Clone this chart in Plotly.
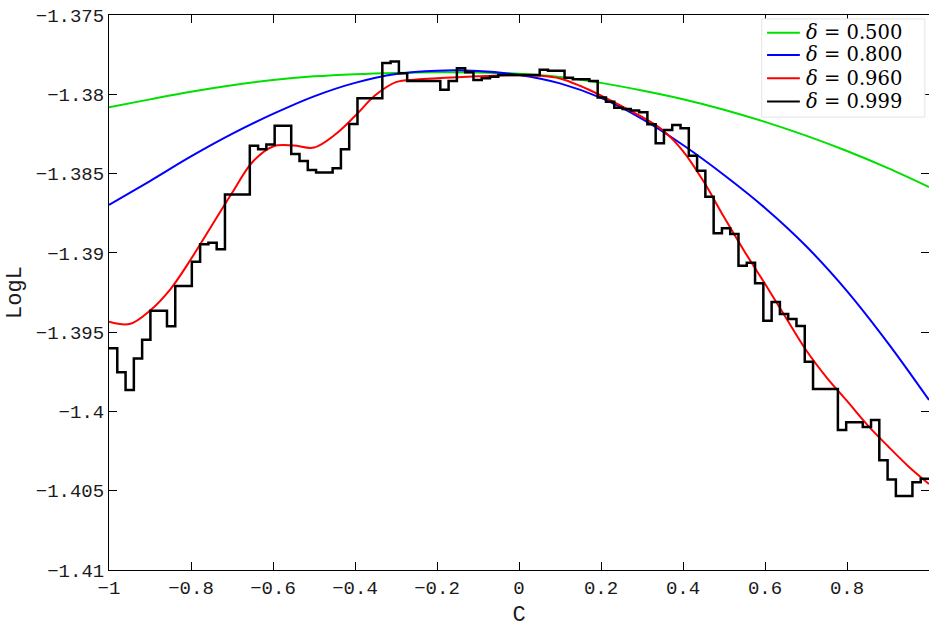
import numpy as np
import plotly.graph_objects as go

# ---- data ----
x_coarse = [-1.0, -0.9, -0.8, -0.7, -0.6, -0.5, -0.4, -0.3, -0.2, -0.1, 0.0,
            0.1, 0.2, 0.3, 0.4, 0.5, 0.6, 0.7, 0.8, 0.9, 1.0]

logl_d500 = [-1.38082, -1.38032, -1.37984, -1.37943, -1.37910, -1.37887, -1.37873,
             -1.37865, -1.37861, -1.37863, -1.37871, -1.37891, -1.37928, -1.37976,
             -1.38031, -1.38097, -1.38174, -1.38261, -1.38358, -1.38466, -1.38585]

logl_d800 = [-1.38698, -1.38547, -1.38392, -1.38250, -1.38124, -1.38013, -1.37928,
             -1.37872, -1.37851, -1.37853, -1.37878, -1.37931, -1.38023, -1.38155,
             -1.38320, -1.38509, -1.38717, -1.38957, -1.39241, -1.39569, -1.39928]

x_fine = [-1.0, -0.95, -0.9, -0.85, -0.8, -0.75, -0.7, -0.65, -0.6, -0.55, -0.5,
          -0.45, -0.4, -0.35, -0.3, -0.25, -0.2, -0.15, -0.1, -0.05, 0.0,
          0.05, 0.1, 0.15, 0.2, 0.25, 0.3, 0.35, 0.4, 0.45, 0.5,
          0.55, 0.6, 0.65, 0.7, 0.75, 0.8, 0.85, 0.9, 0.95, 1.0]

logl_d960 = [-1.39434, -1.39449, -1.39364, -1.39228, -1.39039, -1.38831, -1.38623,
             -1.38427, -1.38329, -1.38323, -1.38336, -1.38257, -1.38137, -1.38005,
             -1.37923, -1.37907, -1.37899, -1.37893, -1.37887, -1.37881, -1.37880,
             -1.37883, -1.37900, -1.37948, -1.38008, -1.38074, -1.38143, -1.38225,
             -1.38358, -1.38549, -1.38774, -1.38991, -1.39195, -1.39405, -1.39613,
             -1.39785, -1.39934, -1.40086, -1.40220, -1.40347, -1.40458]

logl_d999 = [-1.39602, -1.39753, -1.39865, -1.39667, -1.39548, -1.39365, -1.39365,
             -1.39463, -1.39209, -1.39209, -1.39056, -1.38946, -1.38936, -1.38978,
             -1.38632, -1.38632, -1.38632, -1.38324, -1.38347, -1.38316, -1.38198,
             -1.38198, -1.38377, -1.38421, -1.38478, -1.38494, -1.38494, -1.38467,
             -1.38347, -1.38187, -1.38025, -1.38025, -1.38025, -1.37803, -1.37794,
             -1.37868, -1.37916, -1.37916, -1.37916, -1.37916, -1.37971, -1.37916,
             -1.37836, -1.37861, -1.37910, -1.37899, -1.37889, -1.37878, -1.37878,
             -1.37878, -1.37878, -1.37878, -1.37845, -1.37851, -1.37851, -1.37895,
             -1.37905, -1.37905, -1.37916, -1.38020, -1.38047, -1.38085, -1.38093,
             -1.38103, -1.38114, -1.38189, -1.38309, -1.38225, -1.38194, -1.38214,
             -1.38387, -1.38482, -1.38646, -1.38877, -1.38845, -1.38881, -1.39081,
             -1.39062, -1.39192, -1.39428, -1.39310, -1.39386, -1.39417, -1.39461,
             -1.39686, -1.39858, -1.39858, -1.39858, -1.40117, -1.40068, -1.40068,
             -1.40098, -1.40054, -1.40308, -1.40429, -1.40533, -1.40533, -1.40447,
             -1.40424, -1.40424]
x_step = np.linspace(-1, 1, len(logl_d999))

x_ticks = [-1, -0.8, -0.6, -0.4, -0.2, 0, 0.2, 0.4, 0.6, 0.8, 1]
x_ticklabels = ["\u22121", "\u22120.8", "\u22120.6", "\u22120.4", "\u22120.2", "0",
                "0.2", "0.4", "0.6", "0.8", "1"]
y_ticks = [-1.41, -1.405, -1.4, -1.395, -1.39, -1.385, -1.38, -1.375]
y_ticklabels = ["\u22121.41", "\u22121.405", "\u22121.4", "\u22121.395", "\u22121.39",
                "\u22121.385", "\u22121.38", "\u22121.375"]

legend_names = ["<i>\u03b4</i> = 0.500", "<i>\u03b4</i> = 0.800",
                "<i>\u03b4</i> = 0.960", "<i>\u03b4</i> = 0.999"]
colors = ["#00e000", "#0000ff", "#ff0000", "#000000"]

# ---- figure ----
fig = go.Figure()
fig.add_trace(go.Scatter(x=x_coarse, y=logl_d500, mode="lines", name=legend_names[0],
                         line=dict(color=colors[0], width=2, shape="spline", smoothing=1.0)))
fig.add_trace(go.Scatter(x=x_coarse, y=logl_d800, mode="lines", name=legend_names[1],
                         line=dict(color=colors[1], width=2, shape="spline", smoothing=1.0)))
fig.add_trace(go.Scatter(x=x_fine, y=logl_d960, mode="lines", name=legend_names[2],
                         line=dict(color=colors[2], width=2, shape="spline", smoothing=1.0)))
fig.add_trace(go.Scatter(x=x_step, y=logl_d999, mode="lines", name=legend_names[3],
                         line=dict(color=colors[3], width=2.5, shape="hv")))

mono = "Liberation Mono, Courier New, monospace"
tick_font = dict(family=mono, size=19, color="#1a1a1a")

# legend box drawn in plot-paper coordinates (top-right corner)
shapes = [dict(type="rect", xref="paper", yref="paper", x0=0.796, x1=0.995, y0=0.816, y1=0.993,
               fillcolor="white", line=dict(color="#e4e4e4", width=1), layer="above")]
annotations = []
row_y = [0.968, 0.928, 0.886, 0.844]
for name, col, yy in zip(legend_names, colors, row_y):
    shapes.append(dict(type="line", xref="paper", yref="paper", x0=0.8025, x1=0.8425,
                       y0=yy, y1=yy, line=dict(color=col, width=2), layer="above"))
    annotations.append(dict(xref="paper", yref="paper", x=0.8475, y=yy, xanchor="left",
                            yanchor="middle", showarrow=False, text=name,
                            font=dict(family="DejaVu Serif, Liberation Serif, serif",
                                      size=19.5, color="black")))

fig.update_layout(
    width=929, height=628,
    margin=dict(l=109, r=0, t=15, b=58, autoexpand=False),
    paper_bgcolor="white", plot_bgcolor="white",
    showlegend=False,
    shapes=shapes, annotations=annotations,
    xaxis=dict(range=[-1, 1], tickmode="array", tickvals=x_ticks, ticktext=x_ticklabels,
               ticks="inside", ticklen=8, tickwidth=1, tickcolor="black",
               showline=True, linecolor="black", linewidth=1, mirror="ticks",
               showgrid=False, zeroline=False, tickfont=tick_font, automargin=False),
    yaxis=dict(range=[-1.41, -1.375], tickmode="array", tickvals=y_ticks, ticktext=y_ticklabels,
               ticks="inside", ticklen=8, tickwidth=1, tickcolor="black",
               showline=True, linecolor="black", linewidth=1, mirror="ticks",
               showgrid=False, zeroline=False, tickfont=tick_font, automargin=False),
)
fig.update_xaxes(title_text="C", title_standoff=23,
                 title_font=dict(family=mono, size=22, color="#1a1a1a"))
fig.update_yaxes(title_text="LogL", title_standoff=8,
                 title_font=dict(family=mono, size=22, color="#1a1a1a"))

fig.write_html("out.html", config={"displayModeBar": False},
               post_script="document.body.style.margin='0';document.body.style.overflow='hidden';")
